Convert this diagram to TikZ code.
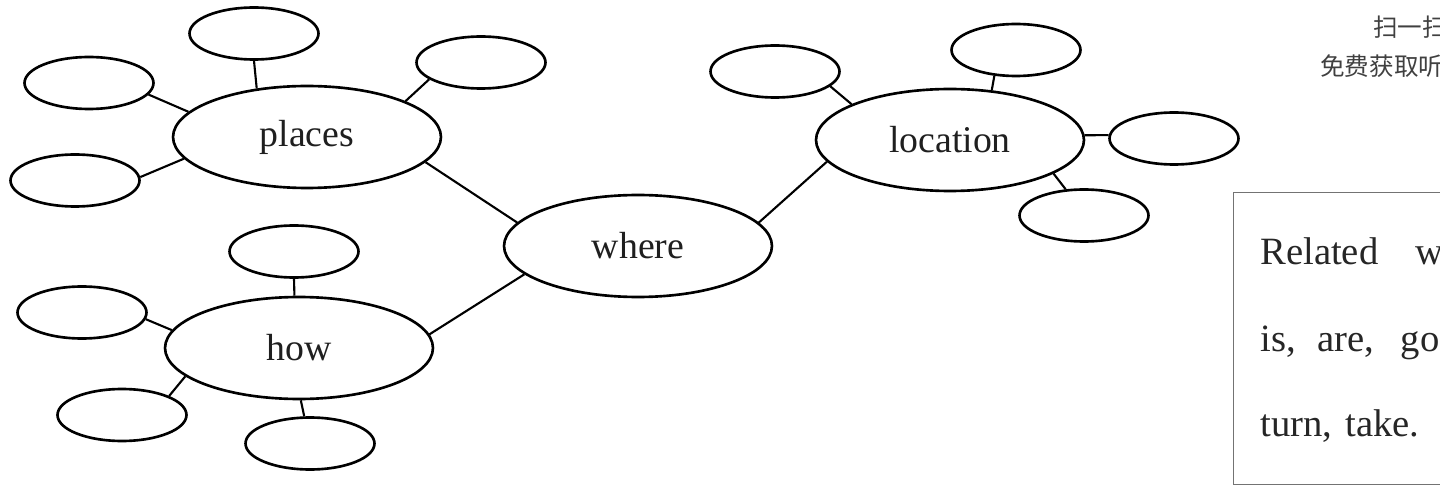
\documentclass[tikz,border=0pt]{standalone}
\usepackage{fontspec}
\setmainfont{Liberation Serif}
\newfontfamily\cjk{Noto Sans CJK SC}
\usetikzlibrary{shapes.geometric}
\tikzset{
	hubnode/.style={ellipse, draw, line width=1.5pt, minimum width=5.36cm, minimum height=2.04cm, font=\fontsize{21.5}{24}\selectfont, text=black!88}
}
\tikzset{
	leafnode/.style={ellipse, draw, line width=1.5pt, minimum width=2.58cm, minimum height=1.04cm}
}
\tikzset{
	linkline/.style={line width=1.2pt}
}
\tikzset{
	boxtext/.style={font=\fontsize{22}{26}\selectfont, inner sep=0pt, text=black!85},
	cntext/.style={font=\cjk\fontsize{14}{16}\selectfont, inner sep=0pt, text=black!75}
}
\newcommand{\wgap}[1]{\hspace{#1pt}}

\begin{document}
\begin{tikzpicture}[x=0.02cm, y=-0.02cm]
      \clip (0,0) rectangle (1440,486);
      % main ellipses
      \node[hubnode] (places) at (307,137) {places};
      \node[hubnode] (where) at (638,246) {where};
      \node[hubnode] (how) at (299,348) {how};
      \node[hubnode] (location) at (950,140) {location};
      % empty ellipses round places
      \node[leafnode] (p1) at (254,33.5) {};
      \node[leafnode] (p2) at (481,62.5) {};
      \node[leafnode] (p3) at (89,83) {};
      \node[leafnode] (p4) at (75,180.5) {};
      % empty ellipses round how
      \node[leafnode] (h1) at (294,251.5) {};
      \node[leafnode] (h2) at (82,312.5) {};
      \node[leafnode] (h3) at (122,415) {};
      \node[leafnode] (h4) at (310,443.5) {};
      % empty ellipses round location
      \node[leafnode] (l1) at (775,71.5) {};
      \node[leafnode] (l2) at (1016,50) {};
      \node[leafnode] (l3) at (1174,138.5) {};
      \node[leafnode] (l4) at (1084,215.5) {};
      % links
      \draw[linkline] (places.348) -- (where.169);
      \draw[linkline] (where.11) -- (location.190);
      \draw[linkline] (where.194) -- (how.6);
      \draw[linkline] (places.136) -- (p1.south);
      \draw[linkline] (places.20) -- (p2.198);
      \draw[linkline] (places.168) -- (p3.349);
      \draw[linkline] (places.190) -- (p4.3);
      \draw[linkline] (how.95) -- (h1.south);
      \draw[linkline] (how.172) -- (h2.354);
      \draw[linkline] (how.194) -- (h3.22);
      \draw[linkline] (how.272) -- (h4.102);
      \draw[linkline] (location.160) -- (l1.345);
      \draw[linkline] (location.50) -- (l2.230);
      \draw[linkline] (location.2) -- (l3.177);
      \draw[linkline] (location.342) -- (l4.125);
      % word box, cut by the page edge
      \node[draw=black!55, line width=0.6pt, minimum width=5.4cm, minimum height=5.84cm, inner sep=0pt, anchor=north west] (wordbox) at (1233,192) {};
      \node[boxtext, anchor=base west] (rel1) at (1260,265) {Related\wgap{21}words};
      \node[boxtext, anchor=base west] (rel2) at (1260,351) {is,\wgap{12.5}are,\wgap{15}go};
      \node[boxtext, anchor=base west] (rel3) at (1260,436) {turn,\wgap{7.5}take.};
      % scan note
      \node[cntext, anchor=west] (scan1) at (1373,27.5) {扫一扫};
      \node[cntext, anchor=west] (scan2) at (1320,66) {免费获取听};
    \end{tikzpicture}
\end{document}
